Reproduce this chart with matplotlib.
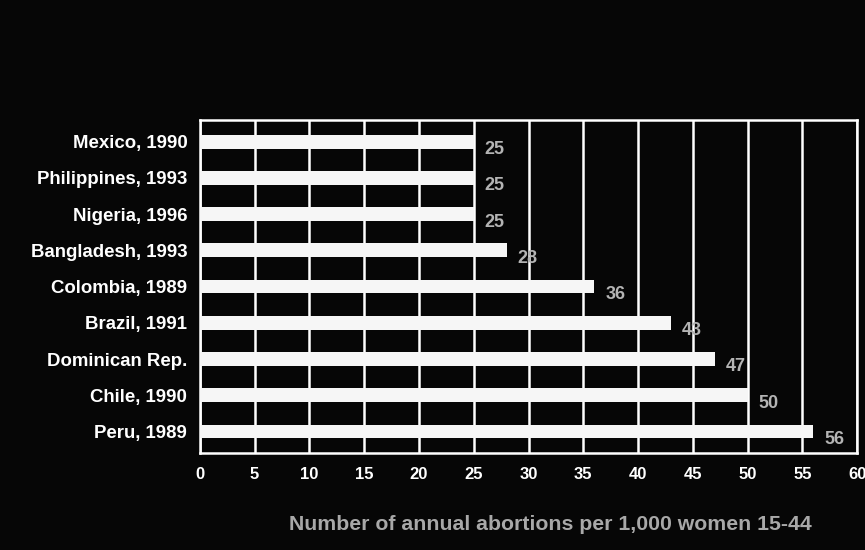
import matplotlib.pyplot as plt
import numpy as np

countries = ["Mexico, 1990", "Philippines, 1993", "Nigeria, 1996", "Bangladesh, 1993",
             "Colombia, 1989", "Brazil, 1991", "Dominican Rep.", "Chile, 1990", "Peru, 1989"]
rates = [25, 25, 25, 28, 36, 43, 47, 50, 56]
xticks = list(range(0, 61, 5))

bg = "#060606"
plt.rcParams['font.family'] = ['Liberation Sans', 'DejaVu Sans']

fig = plt.figure(figsize=(8.65, 5.5), dpi=100, facecolor=bg)
ax = fig.add_axes([0.231, 0.176, 0.760, 0.606], facecolor=bg)

y = np.arange(len(countries))
ax.barh(y, rates, height=0.38, color="#f6f6f6", zorder=3)
for yi, v in zip(y, rates):
    ax.text(v + 1.0, yi + 0.22, str(v), color="#b4b4b4", fontsize=13,
            fontweight="bold", va="center", ha="left", zorder=4)

ax.set_xlim(0, 60)
ax.set_ylim(len(countries) - 0.4, -0.6)
ax.set_yticks(y)
ax.set_yticklabels(countries)
ax.set_xticks(xticks)
ax.xaxis.grid(True, color="white", linewidth=1.8, zorder=1)
ax.tick_params(axis="both", length=0, colors="white")
ax.tick_params(axis="x", pad=10, labelsize=12)
ax.tick_params(axis="y", pad=9, labelsize=13.4)
for lab in ax.get_xticklabels() + ax.get_yticklabels():
    lab.set_fontweight("bold")
for sp in ax.spines.values():
    sp.set_color("white")
    sp.set_linewidth(1.8)

ax.set_xlabel("Number of annual abortions per 1,000 women 15-44", color="#a8a8a8",
              fontsize=15.3, fontweight="bold", va="center")
ax.xaxis.set_label_coords(0.533, -0.213)

fig.savefig("out.png", dpi=100, facecolor=bg)
